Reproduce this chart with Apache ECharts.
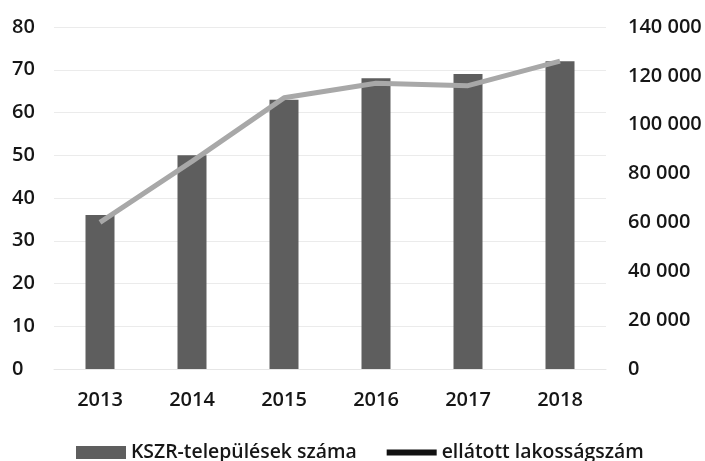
<!DOCTYPE html>
<html>
<head>
<meta charset="utf-8">
<script src="https://cdn.jsdelivr.net/npm/echarts@6/dist/echarts.min.js"></script>
<style>html,body{margin:0;padding:0;background:#fff}#c{width:705px;height:461px}</style>
</head>
<body>
<div id="c"></div>
<script>
const categories = ['2013', '2014', '2015', '2016', '2017', '2018'];
const settlements = [36, 50, 63, 68, 69, 72];
const population = [60000, 85000, 111000, 117000, 116000, 126000];
const seriesNames = ['KSZR-települések száma', 'ellátott lakosságszám'];

const font = '"Open Sans", sans-serif';
const txt = { color: '#161616', fontFamily: font, fontSize: 20, fontWeight: 600 };
const fmtThousands = v => String(v).replace(/\B(?=(\d{3})+(?!\d))/g, ' ');

const chart = echarts.init(document.getElementById('c'), null, { renderer: 'canvas' });
chart.setOption({
  animation: false,
  backgroundColor: '#fff',
  grid: { left: 54, right: 99, top: 27, bottom: 92, containLabel: false },
  legend: {
    left: 71, top: 438,
    itemGap: 30, itemWidth: 50, itemHeight: 13,
    textStyle: Object.assign({}, txt, { fontSize: 19.4 }),
    data: [
      { name: seriesNames[0], icon: 'rect', itemStyle: { color: '#5e5e5e' } },
      { name: seriesNames[1], icon: 'path://M0,0 L50,0 L50,6 L0,6 Z', itemStyle: { color: '#111' } }
    ]
  },
  xAxis: {
    type: 'category', data: categories,
    axisLine: { show: true, lineStyle: { color: '#e6e6e6' } },
    axisTick: { show: false },
    axisLabel: Object.assign({}, txt, { margin: 21 })
  },
  yAxis: [
    {
      type: 'value', min: 0, max: 80, interval: 10,
      axisLine: { show: false }, axisTick: { show: false },
      axisLabel: Object.assign({}, txt, { align: 'left', margin: 42 }),
      splitLine: { lineStyle: { color: '#ebebeb', width: 1 } }
    },
    {
      type: 'value', min: 0, max: 140000, interval: 20000,
      axisLine: { show: false }, axisTick: { show: false },
      axisLabel: Object.assign({}, txt, { align: 'left', margin: 22, formatter: fmtThousands }),
      splitLine: { show: false }
    }
  ],
  series: [
    {
      name: seriesNames[0], type: 'bar', data: settlements, yAxisIndex: 0,
      barWidth: 29, itemStyle: { color: '#5e5e5e' }
    },
    {
      name: seriesNames[1], type: 'line', data: population, yAxisIndex: 1,
      symbol: 'none', symbolKeepAspect: true,
      lineStyle: { color: '#a8a8a8', width: 5 }, z: 5
    }
  ]
});
</script>
</body>
</html>
